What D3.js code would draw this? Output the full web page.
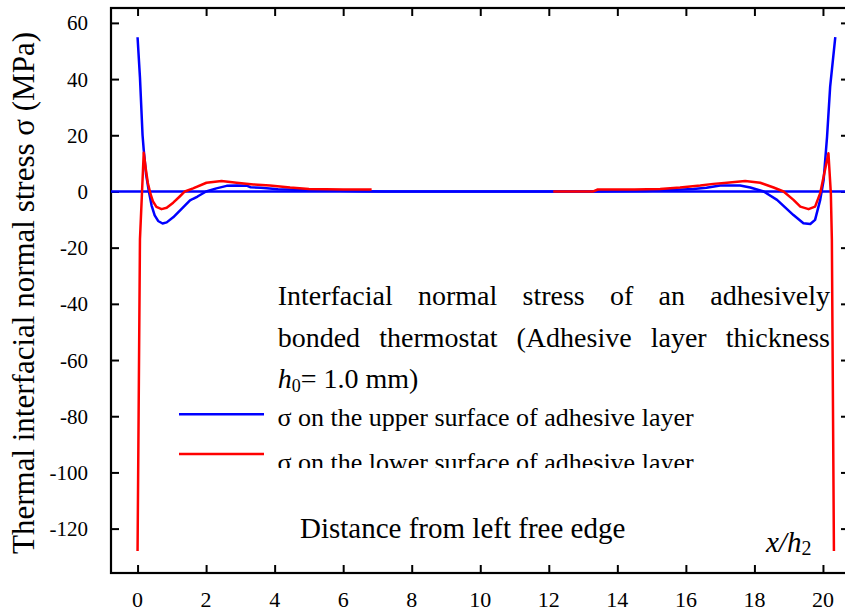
<!DOCTYPE html>
<html>
<head>
<meta charset="utf-8">
<script src="https://cdn.jsdelivr.net/npm/d3@7"></script>
<style>
  body { margin: 0; background: #fff; }
  svg { display: block; }
  text { font-family: "Liberation Serif", "Times New Roman", serif; fill: #000; }
</style>
</head>
<body>
<svg id="chart" width="845" height="614"></svg>
<script>
// Tick values
const xTicks = [0, 2, 4, 6, 8, 10, 12, 14, 16, 18, 20];
const yTicks = [60, 40, 20, 0, -20, -40, -60, -80, -100, -120];

// Upper surface of the adhesive layer: position x/h2 and normal stress (MPa)
const upperX = [0, 0.07, 0.146, 0.18, 0.25, 0.33, 0.41, 0.5, 0.6, 0.73, 0.85, 1.04, 1.3, 1.53, 1.62, 1.75, 2.0, 2.3, 2.6, 2.9, 3.2, 3.3, 3.6, 4.1, 4.6, 5.6, 6.5, 7.2,
                10.2, 13.2, 13.9, 14.8, 15.25, 16.22, 16.6, 17.0, 17.58, 17.88, 18.27, 18.66, 19.14, 19.43, 19.63, 19.77, 19.92, 20.02, 20.12, 20.21, 20.36];
const upperStress = [54.9, 40.6, 20, 14.8, 6, 0, -5, -8.5, -10.5, -11.4, -11, -9.2, -6, -3.2, -2.6, -1.8, 0, 1.1, 2.0, 2.1, 2.0, 1.5, 1.3, 0.8, 0.6, 0.3, 0.1, 0,
                     0, 0, 0.1, 0.2, 0.3, 0.9, 1.3, 2.1, 2.1, 1.4, 0, -3, -8.4, -11.3, -11.6, -10.1, -3, 4.1, 19.5, 37.3, 54.9];

// Lower surface of the adhesive layer (null marks the stretch with no output)
const lowerX = [0, 0.07, 0.125, 0.18, 0.24, 0.3, 0.38, 0.45, 0.55, 0.7, 0.85, 1.04, 1.23, 1.38, 1.62, 2.01, 2.45, 2.89, 3.38, 3.86, 4.45, 5.0, 6.0, 6.83,
                9.5,
                12.13, 13.3, 13.43, 14.5, 15.25, 15.83, 16.42, 16.8, 17.2, 17.73, 18.17, 18.56, 18.85, 19.14, 19.34, 19.58, 19.77, 19.92, 20.02, 20.16, 20.23, 20.26, 20.32];
const lowerStress = [-128, -17, -1.6, 13.8, 8, 3, -1, -3.5, -5.5, -6.3, -5.8, -4, -1.8, 0, 1.1, 3.1, 3.7, 3.1, 2.5, 2.1, 1.4, 0.9, 0.7, 0.7,
                     null,
                     0, 0, 0.7, 0.7, 0.9, 1.4, 2.1, 2.7, 3.1, 3.7, 3.1, 1.4, 0, -3, -5.4, -6.3, -5.4, -0.6, 5.3, 13.6, -0.6, -17, -128];

const seriesNames = ["\u03c3 on the upper surface of adhesive layer", "\u03c3 on the lower surface of adhesive layer"];
const seriesColors = ["#0000ff", "#ff0000"];

const noteLines = [
  ["Interfacial", "normal", "stress", "of", "an", "adhesively"],
  ["bonded", "thermostat", "(Adhesive", "layer", "thickness"]
];

const svg = d3.select("#chart");
const plot = { left: 111, right: 849, top: 8, bottom: 573 };

const x = d3.scaleLinear().domain([-0.775, 20.76]).range([plot.left, plot.right]);
const y = d3.scaleLinear().domain([-135.8, 65.3]).range([plot.bottom, plot.top]);

// Inward tick marks on all four sides
const tickStyle = g => {
  g.select(".domain").remove();
  g.selectAll(".tick line").attr("stroke", "#000").attr("stroke-width", 2);
};
svg.append("g").attr("transform", `translate(0,${plot.bottom})`)
  .call(d3.axisBottom(x).tickValues(xTicks).tickSizeInner(-8).tickSizeOuter(0).tickFormat(""))
  .call(tickStyle);
svg.append("g").attr("transform", `translate(0,${plot.top})`)
  .call(d3.axisTop(x).tickValues(xTicks).tickSizeInner(-8).tickSizeOuter(0).tickFormat(""))
  .call(tickStyle);
svg.append("g").attr("transform", `translate(${plot.left},0)`)
  .call(d3.axisLeft(y).tickValues(yTicks).tickSizeInner(-8).tickSizeOuter(0).tickFormat(""))
  .call(tickStyle);
svg.append("g").attr("transform", `translate(${plot.right},0)`)
  .call(d3.axisRight(y).tickValues(yTicks).tickSizeInner(-8).tickSizeOuter(0).tickFormat(""))
  .call(tickStyle);

// Tick labels in the serif face, negatives with a plain hyphen
svg.append("g").selectAll("text").data(xTicks).join("text")
  .attr("x", d => x(d)).attr("y", 607)
  .attr("text-anchor", "middle")
  .style("font-size", "22px")
  .text(d => String(d));
svg.append("g").selectAll("text").data(yTicks).join("text")
  .attr("x", 88).attr("y", d => y(d) + 7.5)
  .attr("text-anchor", "end")
  .style("font-size", "21px")
  .text(d => String(d));

// Frame
svg.append("rect")
  .attr("x", plot.left).attr("y", plot.top)
  .attr("width", plot.right - plot.left).attr("height", plot.bottom - plot.top)
  .attr("fill", "none").attr("stroke", "#000").attr("stroke-width", 2.2);

// Zero reference line
svg.append("line")
  .attr("x1", plot.left).attr("x2", plot.right)
  .attr("y1", y(0)).attr("y2", y(0))
  .attr("stroke", seriesColors[0]).attr("stroke-width", 2.5);

const line = d3.line()
  .defined(d => d[1] !== null)
  .x(d => x(d[0])).y(d => y(d[1]));

svg.append("path")
  .datum(upperX.map((v, i) => [v, upperStress[i]]))
  .attr("d", line).attr("fill", "none")
  .attr("stroke", seriesColors[0]).attr("stroke-width", 2.5).attr("stroke-linejoin", "round");

svg.append("path")
  .datum(lowerX.map((v, i) => [v, lowerStress[i]]))
  .attr("d", line).attr("fill", "none")
  .attr("stroke", seriesColors[1]).attr("stroke-width", 2.5).attr("stroke-linejoin", "round");

// Y axis title
svg.append("text")
  .attr("transform", "translate(34,293) rotate(-90)")
  .attr("text-anchor", "middle")
  .style("font-size", "31px")
  .text("Thermal interfacial normal stress \u03c3 (MPa)");

// Justified note block
const noteLeft = 277.7, noteRight = 830;
const noteBaselines = [305, 346.5, 387.5];
noteLines.forEach((words, li) => {
  const t = svg.append("text").attr("y", noteBaselines[li]).style("font-size", "28px");
  const spans = words.map(w => t.append("tspan").text(w));
  const widths = spans.map(s => s.node().getComputedTextLength());
  const total = d3.sum(widths);
  const gap = (noteRight - noteLeft - total) / (words.length - 1);
  let cx = noteLeft;
  spans.forEach((s, i) => { s.attr("x", cx); cx += widths[i] + gap; });
});
const l3 = svg.append("text").attr("x", noteLeft).attr("y", noteBaselines[2]).style("font-size", "28px");
l3.append("tspan").style("font-style", "italic").text("h");
l3.append("tspan").attr("dy", 4).style("font-size", "18px").text("0");
l3.append("tspan").attr("dy", -4).text("= 1.0 mm)");

// Legend
const legendY = [414.3, 454];
const legendBase = [426, 471];
svg.append("clipPath").attr("id", "legendClip")
  .append("rect").attr("x", 0).attr("y", 0).attr("width", 845).attr("height", 468);
seriesNames.forEach((name, i) => {
  svg.append("line")
    .attr("x1", 179).attr("x2", 264)
    .attr("y1", legendY[i]).attr("y2", legendY[i])
    .attr("stroke", seriesColors[i]).attr("stroke-width", 2.5);
  svg.append("text")
    .attr("x", 277.5).attr("y", legendBase[i])
    .attr("clip-path", "url(#legendClip)")
    .style("font-size", "26px")
    .text(name);
});

// X axis caption
svg.append("text").attr("x", 300).attr("y", 538).style("font-size", "29px")
  .text("Distance from left free edge");
const xl = svg.append("text").attr("x", 766).attr("y", 552).style("font-size", "29px");
xl.append("tspan").style("font-style", "italic").text("x/h");
xl.append("tspan").attr("dy", 3).style("font-size", "20px").text("2");
</script>
</body>
</html>
